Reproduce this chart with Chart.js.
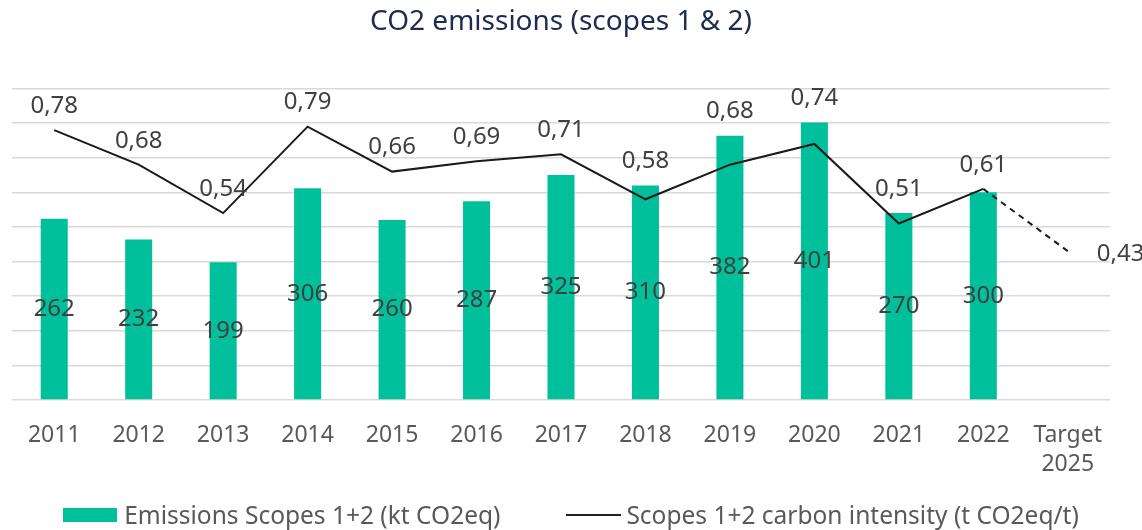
<!DOCTYPE html>
<html>
<head>
<meta charset="utf-8">
<script src="https://cdn.jsdelivr.net/npm/chart.js@4/dist/chart.umd.min.js"></script>
<style>
  html, body { margin: 0; padding: 0; background: #fff; }
  #wrap { position: relative; width: 1142px; height: 530px; }
  #legend {
    position: absolute; left: 0; right: 0; top: 498px;
    display: flex; justify-content: center; align-items: center;
    font-family: 'Noto Sans', sans-serif; font-size: 24.5px; line-height: 33px; color: #595959;
  }
  .leg-item { display: flex; align-items: center; }
  .leg-item + .leg-item { margin-left: 66px; }
  .leg-box { width: 54px; height: 14px; background: #00c09b; margin-right: 7px; }
  .leg-line { width: 55px; height: 2px; background: #222; margin-right: 5px; }
</style>
</head>
<body>
<div id="wrap">
  <canvas id="grafica" width="1142" height="530"></canvas>
  <div id="legend">
    <div class="leg-item"><span class="leg-box"></span><span id="legBar"></span></div>
    <div class="leg-item"><span class="leg-line"></span><span id="legLine"></span></div>
  </div>
</div>
<script>
// --- Datos ---
const categorias   = [['2011'], ['2012'], ['2013'], ['2014'], ['2015'], ['2016'], ['2017'], ['2018'], ['2019'], ['2020'], ['2021'], ['2022'], ['Target', '2025']];
const emisiones    = [262, 232, 199, 306, 260, 287, 325, 310, 382, 401, 270, 300, null];
const intensidad   = [0.78, 0.68, 0.54, 0.79, 0.66, 0.69, 0.71, 0.58, 0.68, 0.74, 0.51, 0.61, 0.43];
const nombreBarras = 'Emissions Scopes 1+2 (kt CO2eq)';
const nombreLinea  = 'Scopes 1+2 carbon intensity (t CO2eq/t)';
const titulo       = 'CO2 emissions (scopes 1 & 2)';

const FUENTE = "'Noto Sans', sans-serif";

document.getElementById('legBar').textContent  = nombreBarras;
document.getElementById('legLine').textContent = nombreLinea;

// Etiquetas de valores (barras centradas, línea encima)
const etiquetas = {
  id: 'etiquetas',
  afterDatasetsDraw(chart) {
    const ctx = chart.ctx;
    const barras = chart.getDatasetMeta(0).data;
    const puntos = chart.getDatasetMeta(1).data;
    ctx.save();
    ctx.font = '24px ' + FUENTE;
    ctx.fillStyle = '#404040';
    ctx.textAlign = 'center';
    ctx.textBaseline = 'middle';

    barras.forEach((b, i) => {
      if (emisiones[i] == null) return;
      ctx.fillText(String(emisiones[i]), b.x, (b.y + b.base) / 2);
    });

    puntos.forEach((p, i) => {
      const txt = intensidad[i].toFixed(2).replace('.', ',');
      if (emisiones[i] == null) {
        ctx.textAlign = 'left';
        ctx.fillText(txt, p.x + 29, p.y + 3);
        ctx.textAlign = 'center';
        return;
      }
      const arriba = Math.min(p.y, barras[i].y);
      ctx.fillText(txt, p.x, arriba - 24);
    });
    ctx.restore();
  }
};

const ctx = document.getElementById('grafica').getContext('2d');
new Chart(ctx, {
  data: {
    labels: categorias,
    datasets: [
      {
        type: 'bar',
        label: nombreBarras,
        data: emisiones,
        backgroundColor: '#00c09b',
        barPercentage: 0.32,
        categoryPercentage: 1,
        yAxisID: 'y',
        order: 2
      },
      {
        type: 'line',
        label: nombreLinea,
        data: intensidad,
        borderColor: '#1a1a1a',
        borderWidth: 2,
        pointRadius: 0,
        tension: 0,
        yAxisID: 'y1',
        order: 1,
        segment: {
          borderDash: c => c.p1DataIndex === intensidad.length - 1 ? [6, 5] : undefined
        }
      }
    ]
  },
  options: {
    responsive: false,
    animation: false,
    layout: { padding: { left: 12, right: 32, top: 0, bottom: 38 } },
    plugins: {
      legend: { display: false },
      tooltip: { enabled: false },
      title: {
        display: true,
        text: titulo,
        color: '#1e2a4f',
        font: { family: FUENTE, size: 28, weight: 'normal' },
        padding: { top: 5, bottom: 50 }
      }
    },
    scales: {
      x: {
        grid: { display: false },
        border: { display: false },
        ticks: {
          color: '#595959',
          font: { family: FUENTE, size: 23, lineHeight: 1.22 },
          padding: 14,
          maxRotation: 0,
          autoSkip: false
        }
      },
      y: {
        min: 0,
        max: 450,
        ticks: { display: false, stepSize: 50 },
        border: { display: false },
        grid: { color: '#d9d9d9', lineWidth: 1.5, drawTicks: false }
      },
      y1: {
        min: 0,
        max: 0.9,
        display: false
      }
    }
  },
  plugins: [etiquetas]
});
</script>
</body>
</html>
